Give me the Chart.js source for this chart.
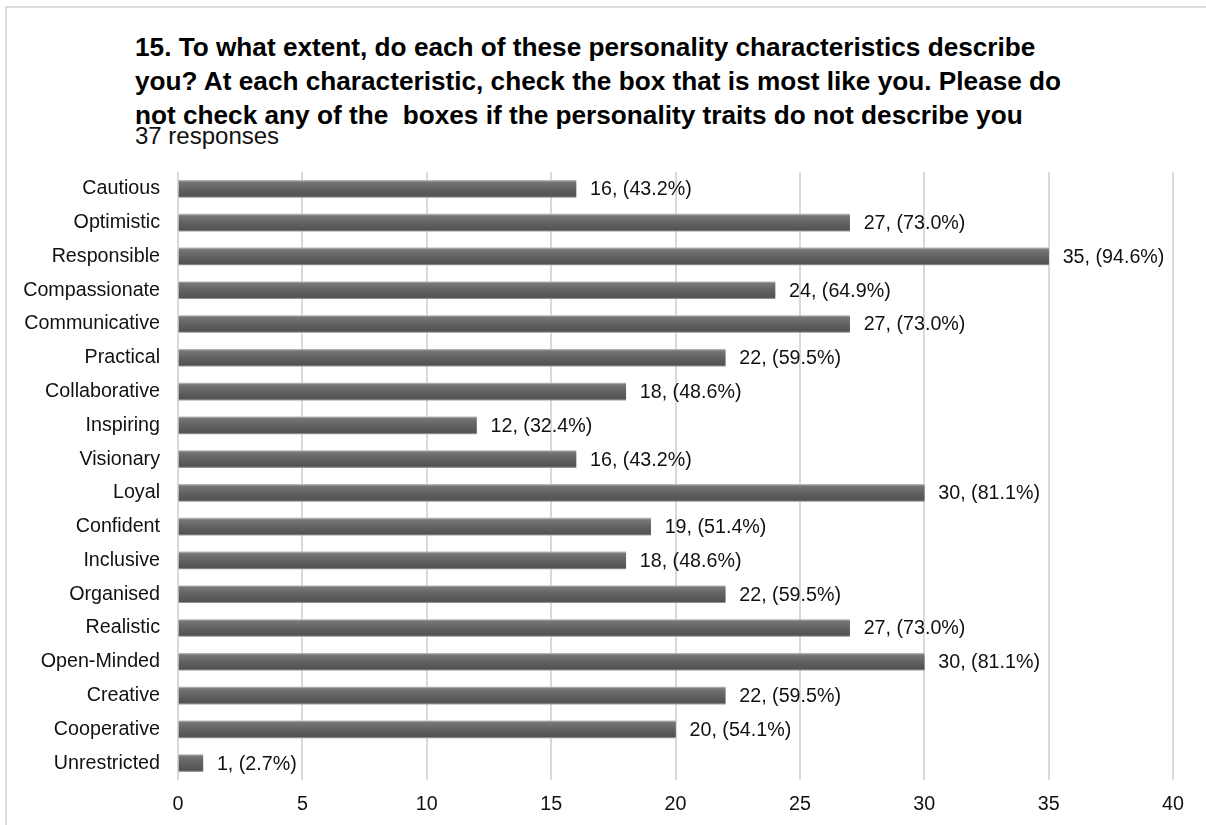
<!DOCTYPE html>
<html>
<head>
<meta charset="utf-8">
<script src="https://cdn.jsdelivr.net/npm/chart.js@4/dist/chart.umd.min.js"></script>
<style>
  html, body { margin: 0; padding: 0; background: #fff; }
  body { width: 1206px; height: 825px; position: relative; overflow: hidden; font-family: "Liberation Sans", Arial, sans-serif; }
  #frame { position: absolute; left: 5px; top: 6px; width: 1210px; height: 830px; border-top: 2px solid #dcdcdc; border-left: 2px solid #dcdcdc; }
  #title { position: absolute; left: 135px; top: 30px; font-size: 26.2px; font-weight: bold; line-height: 34px; color: #000; white-space: nowrap; }
  #subtitle { position: absolute; left: 135px; top: 122px; font-size: 24px; color: #111; }
  #wrap { position: absolute; left: 0; top: 0; width: 1206px; height: 825px; }
</style>
</head>
<body>
<div id="frame"></div>
<div id="title">15. To what extent, do each of these personality characteristics describe<br>you? At each characteristic, check the box that is most like you. Please do<br>not check any of the&nbsp; boxes if the personality traits do not describe you</div>
<div id="subtitle">37 responses</div>
<div id="wrap"><canvas id="c" width="1206" height="825"></canvas></div>
<script>
const categories = ["Cautious","Optimistic","Responsible","Compassionate","Communicative","Practical","Collaborative","Inspiring","Visionary","Loyal","Confident","Inclusive","Organised","Realistic","Open-Minded","Creative","Cooperative","Unrestricted"];
const counts = [16,27,35,24,27,22,18,12,16,30,19,18,22,27,30,22,20,1];
const percents = ["43.2","73.0","94.6","64.9","73.0","59.5","48.6","32.4","43.2","81.1","51.4","48.6","59.5","73.0","81.1","59.5","54.1","2.7"];
const xTicks = [0,5,10,15,20,25,30,35,40];

const FONT = '"Liberation Sans", Arial, sans-serif';
const FSIZE = 19.7;
const BAR_T = 17;

function barGradient(context) {
  const chart = context.chart;
  const yScale = chart.scales.y;
  if (!yScale || context.dataIndex === undefined) return '#5e5e5e';
  const yc = yScale.getPixelForValue(context.dataIndex);
  if (!isFinite(yc)) return '#5e5e5e';
  const top = yc - BAR_T / 2, bot = yc + BAR_T / 2;
  const g = chart.ctx.createLinearGradient(0, top, 0, bot);
  g.addColorStop(0, '#b8b8b8');
  g.addColorStop(0.1, '#767676');
  g.addColorStop(0.5, '#626262');
  g.addColorStop(0.92, '#525252');
  g.addColorStop(1, '#9a9a9a');
  return g;
}

const valueLabels = {
  id: 'valueLabels',
  afterDatasetsDraw(chart) {
    const ctx = chart.ctx;
    const meta = chart.getDatasetMeta(0);
    ctx.save();
    ctx.font = FSIZE + 'px ' + FONT;
    ctx.fillStyle = '#111';
    ctx.textBaseline = 'middle';
    ctx.textAlign = 'left';
    meta.data.forEach((bar, i) => {
      ctx.fillText(counts[i] + ', (' + percents[i] + '%)', bar.x + 14, bar.y + 1);
    });
    ctx.restore();
  }
};

new Chart(document.getElementById('c'), {
  type: 'bar',
  data: {
    labels: categories,
    datasets: [{
      data: counts,
      backgroundColor: barGradient,
      borderWidth: 0,
      barThickness: BAR_T
    }]
  },
  options: {
    indexAxis: 'y',
    responsive: false,
    animation: false,
    events: [],
    layout: { padding: { top: 172, right: 33, left: 0, bottom: 0 } },
    plugins: { legend: { display: false }, tooltip: { enabled: false }, title: { display: false } },
    scales: {
      x: {
        min: 0, max: 40,
        afterBuildTicks(scale) { scale.ticks = xTicks.map(v => ({ value: v })); },
        afterFit(scale) { scale.height = 45; },
        grid: { color: '#d9d9d9', lineWidth: 2, drawTicks: false },
        border: { display: false },
        ticks: { font: { size: FSIZE, family: FONT }, color: '#111', padding: 13 }
      },
      y: {
        afterFit(scale) { scale.width = 178; },
        grid: { display: false, drawTicks: false },
        border: { display: false },
        ticks: { font: { size: FSIZE, family: FONT }, color: '#111', padding: 18, autoSkip: false }
      }
    }
  },
  plugins: [valueLabels]
});
</script>
</body>
</html>
